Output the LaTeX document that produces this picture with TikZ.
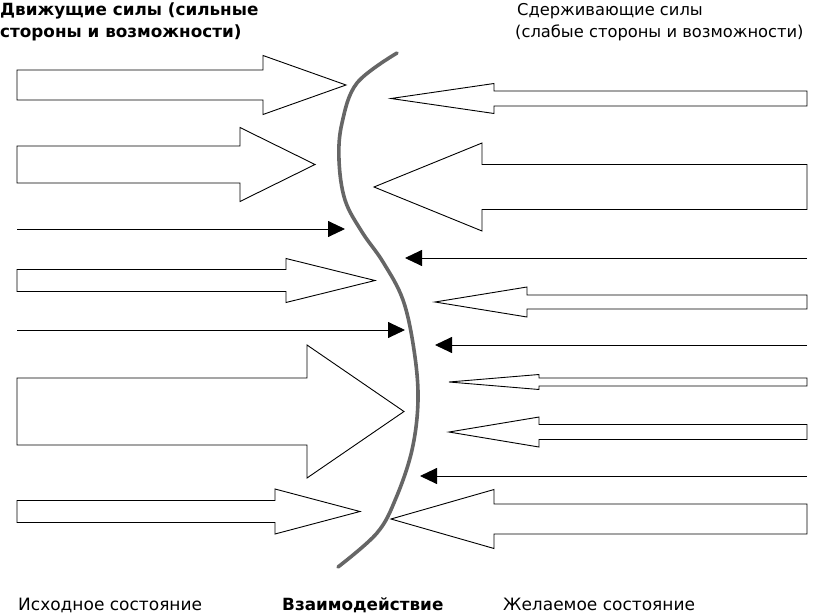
\documentclass[tikz,border=0pt]{standalone}
\usepackage{fontspec}
\setmainfont{DejaVu Sans}
\usetikzlibrary{arrows.meta}
\tikzset{
  fatarrow/.style={draw=black, line width=0.9pt, fill=white, line join=miter},
  thinarrow/.style={draw=black, line width=0.9pt, -{Triangle[length=17pt,width=16pt]}},
  frontier/.style={draw=black!60, line width=3.6pt, line cap=round},
  label/.style={anchor=base west, inner sep=0pt, font=\fontsize{17}{20}\selectfont},
  titlelabel/.style={label, font=\fontsize{16.3}{20}\selectfont},
  boldlabel/.style={label, font=\fontsize{16.8}{20}\selectfont\bfseries},
}
% #1 tail x, #2 head start x, #3 tip x, #4 centre y, #5 body half height, #6 head half height
\newcommand{\fatarr}[6]{%
  \path[fatarrow] (#1,#4-#5) -- (#2,#4-#5) -- (#2,#4-#6) -- (#3,#4) -- (#2,#4+#6) -- (#2,#4+#5) -- (#1,#4+#5) -- cycle;}
\begin{document}
\begin{tikzpicture}[x=1pt,y=-1pt]
\useasboundingbox (0,0) rectangle (815,613);

% titles
\node[boldlabel] (tl1) at (0,16) {Движущие силы (сильные};
\node[boldlabel] (tl2) at (0,37) {стороны и возможности)};
\node[titlelabel] (tr1) at (517,16) {Сдерживающие силы};
\node[titlelabel] (tr2) at (515,37) {(слабые стороны и возможности)};

% left driving forces
\fatarr{17}{263}{346}{85}{15}{29.5}
\fatarr{17}{240}{315}{164.5}{18.5}{37}
\coordinate (l3s) at (17,229); \coordinate (l3e) at (345,229);
\draw[thinarrow] (l3s) -- (l3e);
\fatarr{17}{286}{375}{280.5}{11}{22}
\coordinate (l5s) at (17,330); \coordinate (l5e) at (405,330);
\draw[thinarrow] (l5s) -- (l5e);
\fatarr{17}{307}{404}{411.5}{33.5}{66.5}
\fatarr{17}{275}{360}{511.5}{11}{22.5}

% right restraining forces
\fatarr{807}{494}{391}{98.5}{7.5}{15}
\fatarr{807}{482}{374}{187}{22.5}{44}
\coordinate (r3s) at (807,258); \coordinate (r3e) at (405,258);
\draw[thinarrow] (r3s) -- (r3e);
\fatarr{807}{527}{435}{302}{7}{15}
\coordinate (r5s) at (807,345); \coordinate (r5e) at (435,345);
\draw[thinarrow] (r5s) -- (r5e);
\fatarr{807}{539}{449}{382}{4}{7.5}
\fatarr{807}{539}{449}{432}{7.5}{15}
\coordinate (r8s) at (807,476); \coordinate (r8e) at (420,476);
\draw[thinarrow] (r8s) -- (r8e);
\fatarr{807}{494}{391}{519}{15}{29.5}

% frontier curve
\draw[frontier] plot[smooth, tension=0.6] coordinates {(397,53) (357,83) (342,123) (339,160) (345,200) (362,232) (383,262) (403,300) (414,350) (418,400) (412,450) (396,498) (377,533) (338,567)};

% bottom labels
\node[label] (b1) at (18,610) {Исходное состояние};
\node[boldlabel] (b2) at (282,610) {Взаимодействие};
\node[label] (b3) at (503,610) {Желаемое состояние};
\end{tikzpicture}
\end{document}
